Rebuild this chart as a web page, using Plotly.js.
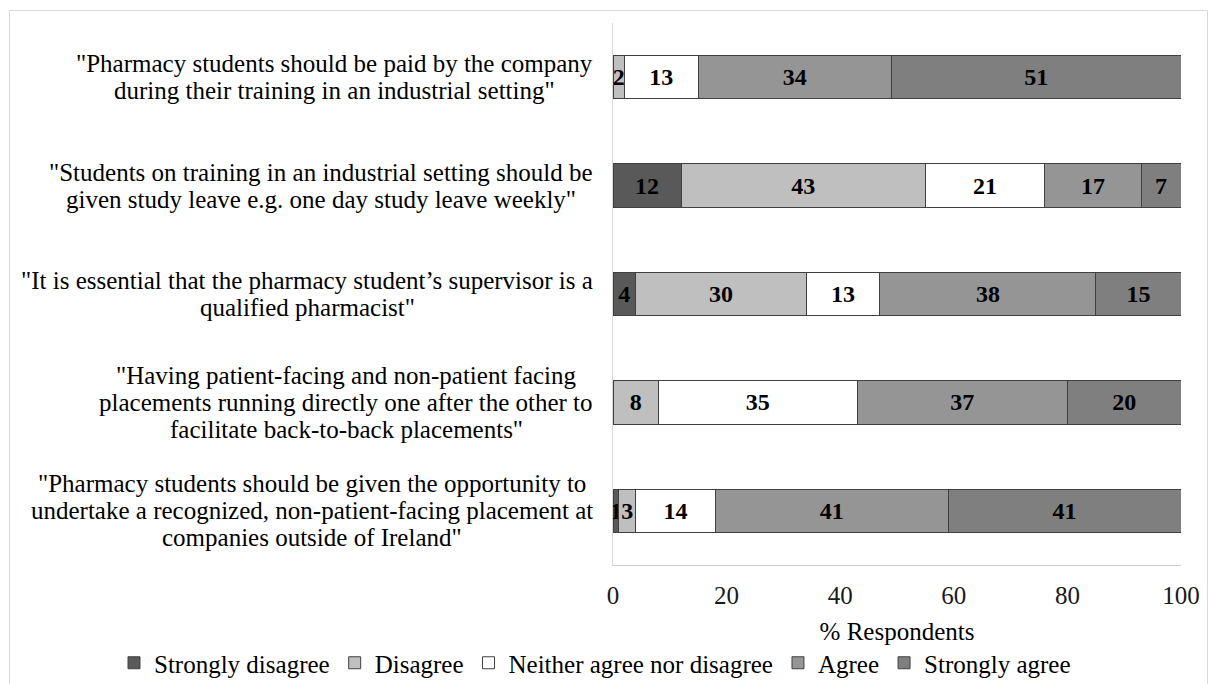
<!DOCTYPE html>
<html>
<head>
<meta charset="utf-8">
<script src="https://cdn.plot.ly/plotly-3.0.1.min.js"></script>
<style>
  html, body { margin: 0; padding: 0; background: #ffffff; }
  #chart { width: 1208px; height: 684px; }
</style>
</head>
<body>
<div id="chart"></div>
<script>
// ---------- data ----------
const categories = [
  '"Pharmacy students should be paid by the company<br>during their training in an industrial setting"',
  '"Students on training in an industrial setting should be<br>given study leave e.g. one day study leave weekly"',
  '"It is essential that the pharmacy student\u2019s supervisor is a<br>qualified pharmacist"',
  '"Having patient-facing and non-patient facing<br>placements running directly one after the other to<br>facilitate back-to-back placements"',
  '"Pharmacy students should be given the opportunity to<br>undertake a recognized, non-patient-facing placement at<br>companies outside of Ireland"'
];
const seriesNames = ['Strongly disagree', 'Disagree', 'Neither agree nor disagree', 'Agree', 'Strongly agree'];
const stronglyDisagree = [0, 12, 4, 0, 1];
const disagree         = [2, 43, 30, 8, 3];
const neither          = [13, 21, 13, 35, 14];
const agree            = [34, 17, 38, 37, 41];
const stronglyAgree    = [51, 7, 15, 20, 41];
const xTicks = [0, 20, 40, 60, 80, 100];

// ---------- styling ----------
const W = 1208, H = 684;
const M = { l: 613, r: 27, t: 23, b: 119, autoexpand: false };
const FONT = "'Liberation Serif', 'Times New Roman', serif";
const colors = ['#595959', '#bfbfbf', '#ffffff', '#959595', '#7f7f7f'];
const allSeries = [stronglyDisagree, disagree, neither, agree, stronglyAgree];

const traces = allSeries.map((vals, i) => ({
  type: 'bar',
  orientation: 'h',
  name: seriesNames[i],
  y: categories,
  x: vals,
  text: vals.map(v => (v > 0 ? String(v) : '')),
  textposition: 'inside',
  insidetextanchor: 'middle',
  constraintext: 'none',
  textangle: 0,
  textfont: { family: FONT, size: 24, color: '#000000', weight: 'bold' },
  marker: { color: colors[i], line: { color: '#404040', width: 1 } },
  hoverinfo: 'skip'
}));

// per-line category labels, centred within each block, block right-aligned near the axis
const LABEL_SIZE = 25, LINE_GAP = 27, LABEL_PAD = 20;
const ctx = document.createElement('canvas').getContext('2d');
ctx.font = LABEL_SIZE + 'px "Liberation Serif"';
const annotations = [];
categories.forEach(cat => {
  const lines = cat.split('<br>');
  const blockW = Math.max(...lines.map(s => ctx.measureText(s).width));
  const mid = (lines.length - 1) / 2;
  lines.forEach((line, j) => {
    annotations.push({
      xref: 'paper', yref: 'y', x: 0, y: cat,
      xanchor: 'center', yanchor: 'middle',
      xshift: -(LABEL_PAD + blockW / 2),
      yshift: (mid - j) * LINE_GAP,
      text: line, showarrow: false,
      font: { family: FONT, size: LABEL_SIZE, color: '#000000' }
    });
  });
});

const plotW = W - M.l - M.r, plotH = H - M.t - M.b;
const px2x = p => (p - M.l) / plotW;
const py2y = p => (H - M.b - p) / plotH;

const layout = {
  width: W, height: H,
  margin: M,
  paper_bgcolor: '#ffffff', plot_bgcolor: '#ffffff',
  barmode: 'stack',
  bargap: 0.6,
  showlegend: true,
  font: { family: FONT, size: 25, color: '#000000' },
  xaxis: {
    range: [0, 100],
    tickvals: xTicks, ticktext: xTicks.map(String),
    showgrid: false, zeroline: false,
    showline: true, linecolor: '#d0d0d0', linewidth: 1,
    ticks: '', ticklabelstandoff: 8,
    tickfont: { family: FONT, size: 25, color: '#1a1a1a' },
    title: { text: '% Respondents', font: { family: FONT, size: 25, color: '#000000' }, standoff: 14 },
    automargin: false,
    fixedrange: true
  },
  yaxis: {
    type: 'category',
    autorange: 'reversed',
    showticklabels: false,
    showgrid: false, zeroline: false,
    showline: true, linecolor: '#d9d9d9', linewidth: 1,
    ticks: '',
    automargin: false,
    fixedrange: true
  },
  legend: {
    orientation: 'h',
    x: px2x(114), xanchor: 'left',
    y: py2y(663), yanchor: 'middle',
    font: { family: FONT, size: 25, color: '#000000' },
    traceorder: 'normal',
    itemclick: false, itemdoubleclick: false
  },
  annotations: annotations,
  shapes: [{
    type: 'rect', xref: 'paper', yref: 'paper',
    x0: px2x(9.5), x1: px2x(1207.5), y0: py2y(700), y1: py2y(10.5),
    line: { color: '#d9d9d9', width: 1 }, fillcolor: 'rgba(0,0,0,0)', layer: 'below'
  }]
};

Plotly.newPlot('chart', traces, layout, { displayModeBar: false, staticPlot: true });
</script>
</body>
</html>
